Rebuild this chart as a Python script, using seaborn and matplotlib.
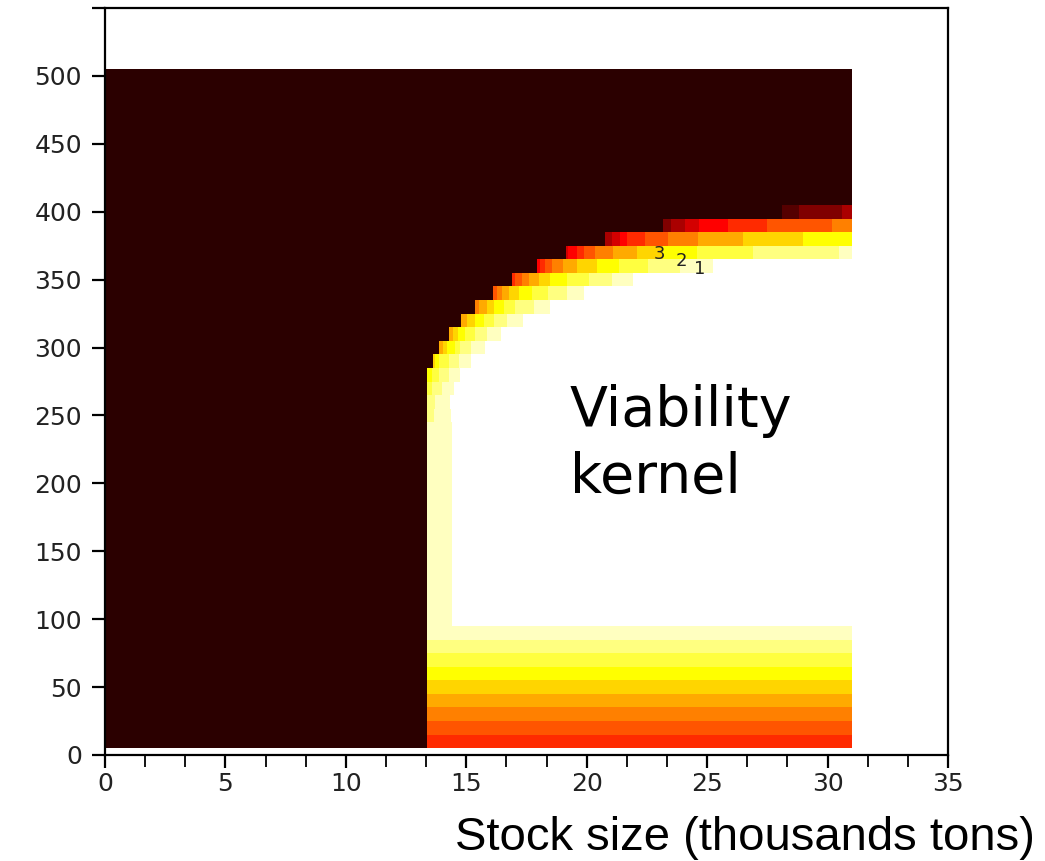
import numpy as np
import pandas as pd
import matplotlib
matplotlib.use("Agg")
import matplotlib.pyplot as plt
from matplotlib.colors import ListedColormap
from matplotlib import font_manager
from matplotlib.ticker import MultipleLocator
import seaborn as sns

# ---------------- data ----------------
# colour of each "time to crisis" level 1..14, last entry = level 15 (outside / never viable)
level_colors = ['#ffffc0', '#ffff80', '#ffff40', '#ffff00', '#ffd500', '#ffaa00',
                '#ff8000', '#ff5500', '#ff2a00', '#ff0000', '#d40000', '#aa0000',
                '#800000', '#550000', '#2b0000']
dark_level = 15

# grid rows (effort axis), centre of each row, row height 10
row_centers = list(range(10, 510, 10))
# highest level found in the row just right of the dark region
first_level = ([9, 8, 7, 6, 5, 4, 3, 2, 1] +          # rows 10..90
               [1] * 15 +                              # rows 100..240
               [2, 2, 3, 4, 5, 6, 6, 6, 7, 8, 9, 10, 11, 12, 13, 14] +  # rows 250..400
               [dark_level] * 10)                      # rows 410..500
# x breakpoints (thousand tons): first = end of dark region, then one edge per level
level_edges = (
    [[13.37, 31.0]] * 9 +
    [[13.37, 14.40]] * 15 +
    [[13.37, 13.66, 14.36],
     [13.37, 13.70, 14.32],
     [13.37, 13.57, 13.99, 14.49],
     [13.37, 13.57, 13.86, 14.28, 14.74],
     [13.62, 13.70, 13.86, 14.28, 14.69, 15.19],
     [13.86, 14.03, 14.20, 14.53, 14.74, 15.19, 15.77],
     [14.28, 14.45, 14.65, 14.94, 15.36, 15.86, 16.44],
     [14.78, 15.03, 15.36, 15.73, 16.15, 16.69, 17.35],
     [15.36, 15.53, 15.86, 16.15, 16.56, 17.02, 17.81, 18.47],
     [16.11, 16.27, 16.48, 16.77, 17.19, 17.73, 18.39, 19.18, 19.88],
     [16.89, 17.02, 17.31, 17.60, 18.02, 18.47, 19.18, 20.09, 21.05, 21.92],
     [17.93, 18.06, 18.26, 18.56, 19.01, 19.59, 20.42, 21.34, 22.54, 23.87, 25.24],
     [19.14, 19.22, 19.59, 19.88, 20.34, 21.09, 22.08, 23.16, 24.57, 26.90, 30.47, 31.0],
     [20.76, 21.05, 21.38, 21.67, 22.42, 23.37, 24.62, 26.48, 28.97, 31.0],
     [23.16, 23.50, 24.08, 24.66, 25.86, 27.48, 30.18, 31.0],
     [28.10, 28.81, 30.59, 31.0]] +
    [[31.0]] * 10
)
x_max = 31.0
row_height = 10

contour_labels = ['3', '2', '1']
contour_label_x = [23.0, 23.95, 24.7]
contour_label_y = [369, 363.5, 358.0]

x_ticks = [0, 5, 10, 15, 20, 25, 30, 35]
y_ticks = [0, 50, 100, 150, 200, 250, 300, 350, 400, 450, 500, 550]
y_tick_labels = ['0', '50', '100', '150', '200', '250', '300', '350', '400', '450', '500', '']
x_label = 'Stock size (thousands tons)'
kernel_text = 'Viability\nkernel'

# ---------------- build cell table ----------------
x_edges = np.array(sorted(set([0.0, x_max] + [e for row in level_edges for e in row])))
y_edges = np.array([c - row_height / 2 for c in row_centers] + [row_centers[-1] + row_height / 2])
x_centers = (x_edges[:-1] + x_edges[1:]) / 2

recs = []
for yc, top, edges in zip(row_centers, first_level, level_edges):
    for xc in x_centers:
        if xc < edges[0]:
            val = dark_level
        elif xc >= edges[-1]:
            val = 0
        else:
            k = np.searchsorted(edges, xc, side='right') - 1
            val = top - k
        if val > 0:
            recs.append((xc, yc, val))
cells = pd.DataFrame(recs, columns=['stock', 'effort', 'level'])

# ---------------- fonts ----------------
available = {f.name for f in font_manager.fontManager.ttflist}
narrow = next((f for f in ['Liberation Sans Narrow', 'DejaVu Sans Condensed', 'Liberation Sans']
               if f in available), 'DejaVu Sans')

# ---------------- plot ----------------
sns.set_style('white')
plt.rcParams['font.family'] = ['DejaVu Sans']

fig = plt.figure(figsize=(10.45, 8.61), dpi=100)
ax = fig.add_axes([105 / 1045, 1 - 755 / 861, (948 - 105) / 1045, (755 - 8) / 861])

cmap = ListedColormap(level_colors)
sns.histplot(data=cells, x='stock', y='effort', weights='level',
             bins=[x_edges, y_edges], cmap=cmap, vmin=0.5, vmax=15.5,
             cbar=False, ax=ax)

ax.set_xlim(0, 35)
ax.set_ylim(0, 550)
ax.set_xlabel('')
ax.set_ylabel('')

ax.set_xticks(x_ticks)
ax.set_xticklabels([str(t) for t in x_ticks])
ax.xaxis.set_minor_locator(MultipleLocator(5 / 3))
ax.set_yticks(y_ticks)
ax.set_yticklabels(y_tick_labels)

for s in ax.spines.values():
    s.set_color('black')
    s.set_linewidth(1.6)
ax.tick_params(axis='x', which='major', direction='out', length=9.5, width=1.6,
               color='black', labelsize=18, pad=3, bottom=True)
ax.tick_params(axis='x', which='minor', direction='out', length=8.5, width=1.3,
               color='black', bottom=True)
ax.tick_params(axis='y', which='major', direction='out', length=9.5, width=1.6,
               color='black', labelsize=18, pad=7, left=True)
for lab in ax.get_xticklabels() + ax.get_yticklabels():
    lab.set_color('#222222')

for t, x, y in zip(contour_labels, contour_label_x, contour_label_y):
    ax.text(x, y, t, fontsize=13, ha='center', va='center', color='#222222')

ax.text(19.3, 273, kernel_text, fontsize=40, ha='left', va='top',
        color='black', linespacing=1.3)

fig.text(1035 / 1045, 1 - 850 / 861, x_label, ha='right', va='baseline',
         fontsize=34, family=narrow, color='black')

fig.savefig('out.png', dpi=100, facecolor='white')
